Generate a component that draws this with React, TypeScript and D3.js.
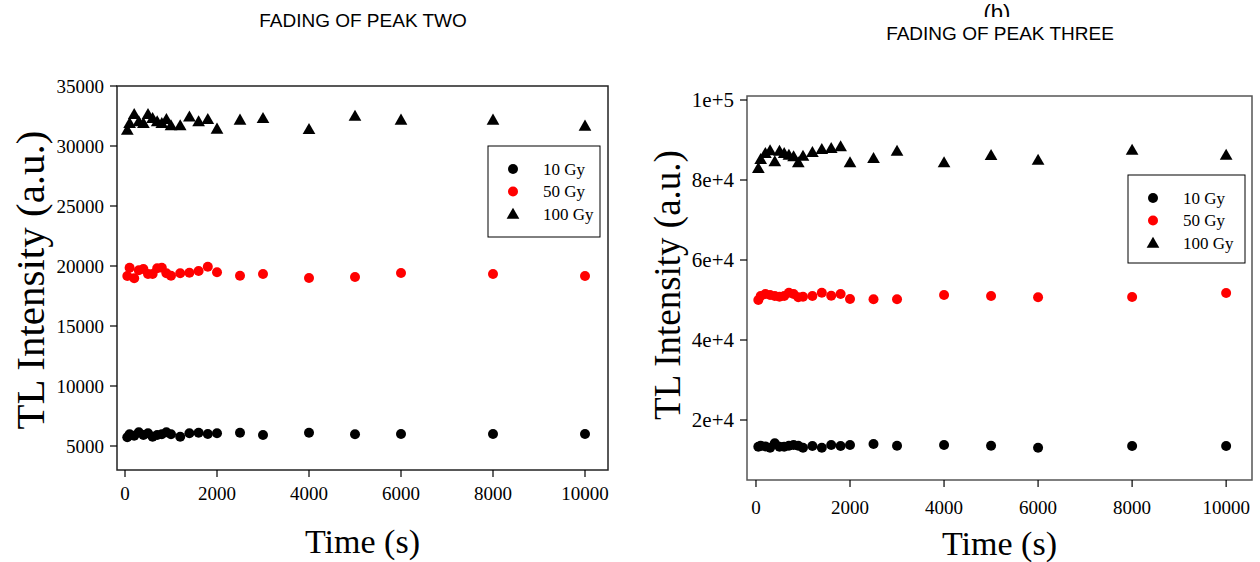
import React from "react";
import * as d3 from "d3";

const times = [50, 100, 200, 300, 400, 500, 600, 700, 800, 900, 1000, 1200, 1400, 1600, 1800, 2000, 2500, 3000, 4000, 5000, 6000, 8000, 10000];

const peakTwo10 = [5725, 5975, 5860, 6140, 5920, 6060, 5775, 5920, 5975, 6140, 5975, 5775, 6060, 6110, 6000, 6060, 6110, 5920, 6110, 5975, 6000, 6000, 6000];
const peakTwo50 = [19170, 19860, 18980, 19650, 19750, 19330, 19330, 19810, 19860, 19390, 19190, 19390, 19440, 19580, 19940, 19480, 19190, 19330, 19000, 19080, 19420, 19330, 19170];
const peakTwo100 = [31330, 31890, 32640, 32030, 31890, 32640, 32300, 32030, 31890, 32220, 31700, 31700, 32440, 32030, 32220, 31420, 32170, 32300, 31390, 32500, 32170, 32170, 31670];

const peakThree10 = [13330, 13580, 13400, 13080, 14180, 13330, 13330, 13580, 13750, 13580, 13080, 13500, 13080, 13750, 13500, 13750, 14000, 13580, 13750, 13580, 13080, 13500, 13500];
const peakThree50 = [50000, 51000, 51500, 51250, 51000, 50830, 51000, 51830, 51500, 50680, 50830, 51000, 51830, 51080, 51500, 50250, 50180, 50180, 51250, 51000, 50680, 50750, 51750];
const peakThree100 = [82930, 85180, 86680, 87330, 84580, 87250, 86680, 86250, 85830, 84330, 86000, 86930, 87680, 87930, 88330, 84330, 85430, 87250, 84330, 86180, 85000, 87500, 86250];

const xTicks = [0, 2000, 4000, 6000, 8000, 10000];
const yTicksTwo = [5000, 10000, 15000, 20000, 25000, 30000, 35000];
const yTicksThree = [20000, 40000, 60000, 80000, 100000];
const yTickLabelsThree = ["2e+4", "4e+4", "6e+4", "8e+4", "1e+5"];
const legendLabels = ["10 Gy", "50 Gy", "100 Gy"];

const serif = "'Liberation Serif', 'Times New Roman', serif";
const sans = "'Liberation Sans', Arial, sans-serif";

type Series = { values: number[]; color: string; shape: "circle" | "triangle" };

const triPath = d3.symbol(d3.symbolTriangle, 70)() as string;

function Marker({ x, y, s }: { x: number; y: number; s: Series }) {
  if (s.shape === "circle") return <circle cx={x} cy={y} r={5} fill={s.color} />;
  return <path d={triPath} transform={`translate(${x},${y + 1})`} fill={s.color} />;
}

type PanelProps = {
  left: number; top: number; right: number; bottom: number;
  xDomain: [number, number]; yDomain: [number, number];
  yTicks: number[]; yTickLabels: string[]; yTickSize: number;
  series: Series[];
  frameColor: string;
  legend: { x: number; y: number; w: number; h: number };
  yTitleX: number; yTitleY: number; yTitleSize: number; xTitleY: number; xLabelY: number;
};

function Panel(p: PanelProps) {
  const x = d3.scaleLinear().domain(p.xDomain).range([p.left, p.right]);
  const y = d3.scaleLinear().domain(p.yDomain).range([p.bottom, p.top]);
  const cx = (p.left + p.right) / 2;
  return (
    <g>
      <rect x={p.left} y={p.top} width={p.right - p.left} height={p.bottom - p.top} fill="none" stroke={p.frameColor} strokeWidth={1.5} />
      {p.yTicks.map((t, i) => (
        <g key={"y" + t}>
          <line x1={p.left - 7} x2={p.left} y1={y(t)} y2={y(t)} stroke="#000" strokeWidth={1.2} />
          <text x={p.left - 13} y={y(t)} dy="0.35em" textAnchor="end" fontFamily={serif} fontSize={p.yTickSize}>{p.yTickLabels[i]}</text>
        </g>
      ))}
      {xTicks.map((t) => (
        <g key={"x" + t}>
          <line x1={x(t)} x2={x(t)} y1={p.bottom} y2={p.bottom + 7} stroke="#000" strokeWidth={1.2} />
          <text x={x(t)} y={p.xLabelY} dy="0.35em" textAnchor="middle" fontFamily={serif} fontSize={19}>{t}</text>
        </g>
      ))}
      {p.series.map((s, si) => (
        <g key={"s" + si}>
          {times.map((t, i) => <Marker key={i} x={x(t)} y={y(s.values[i])} s={s} />)}
        </g>
      ))}
      <rect x={p.legend.x} y={p.legend.y} width={p.legend.w} height={p.legend.h} fill="#fff" stroke="#000" strokeWidth={1} />
      {p.series.map((s, i) => {
        const ly = p.legend.y + 23 + i * 22.5;
        return (
          <g key={"l" + i}>
            <Marker x={p.legend.x + 25} y={ly} s={s} />
            <text x={p.legend.x + 55} y={ly} dy="0.35em" fontFamily={serif} fontSize={17}>{legendLabels[i]}</text>
          </g>
        );
      })}
      <text transform={`translate(${p.yTitleX},${p.yTitleY}) rotate(-90)`} textAnchor="middle" dy="0.35em" fontFamily={serif} fontSize={p.yTitleSize}>TL Intensity (a.u.)</text>
      <text x={cx} y={p.xTitleY} dy="0.35em" textAnchor="middle" fontFamily={serif} fontSize={34}>Time (s)</text>
    </g>
  );
}

export default function App() {
  return (
    <svg width={1260} height={562} style={{ position: "absolute", left: 0, top: 0, background: "#fff" }}>
      <rect x={0} y={0} width={1260} height={562} fill="#fff" />
      <text x={363} y={20} dy="0.35em" textAnchor="middle" fontFamily={sans} fontSize={19}>FADING OF PEAK TWO</text>
      <text x={997} y={12} dy="0.35em" textAnchor="middle" fontFamily={sans} fontSize={22}>(b)</text>
      <rect x={960} y={17} width={80} height={8} fill="#fff" />
      <text x={1000} y={33} dy="0.35em" textAnchor="middle" fontFamily={sans} fontSize={19}>FADING OF PEAK THREE</text>
      <Panel
        left={117} top={86} right={608} bottom={470}
        xDomain={[-174, 10500]} yDomain={[3000, 35000]}
        yTicks={yTicksTwo} yTickLabels={yTicksTwo.map(String)} yTickSize={19}
        series={[
          { values: peakTwo10, color: "#000", shape: "circle" },
          { values: peakTwo50, color: "#ff0000", shape: "circle" },
          { values: peakTwo100, color: "#000", shape: "triangle" },
        ]}
        frameColor="#222"
        legend={{ x: 488, y: 146, w: 112, h: 91 }}
        yTitleX={30} yTitleY={280} yTitleSize={41} xTitleY={541} xLabelY={493}
      />
      <Panel
        left={747} top={96} right={1252} bottom={480}
        xDomain={[-191, 10550]} yDomain={[5000, 101000]}
        yTicks={yTicksThree} yTickLabels={yTickLabelsThree} yTickSize={21}
        series={[
          { values: peakThree10, color: "#000", shape: "circle" },
          { values: peakThree50, color: "#ff0000", shape: "circle" },
          { values: peakThree100, color: "#000", shape: "triangle" },
        ]}
        frameColor="#555"
        legend={{ x: 1128, y: 175, w: 117, h: 88 }}
        yTitleX={667} yTitleY={285} yTitleSize={37} xTitleY={543} xLabelY={507}
      />
    </svg>
  );
}
